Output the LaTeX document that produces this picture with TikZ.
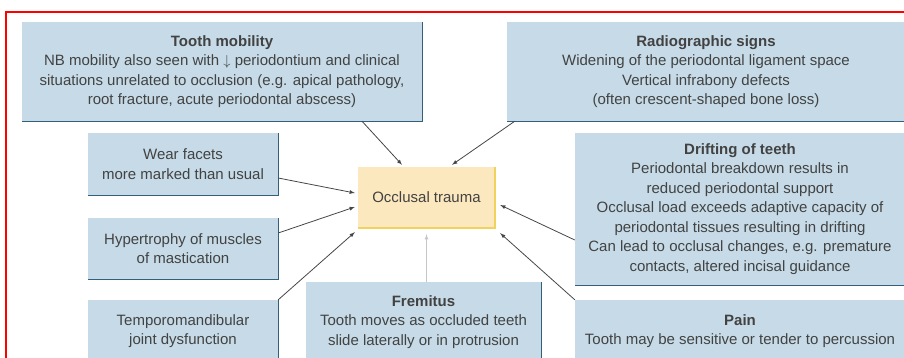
\documentclass[tikz,border=0pt]{standalone}
\usepackage{amsmath}
\usepackage{fontspec}
\setmainfont{Liberation Sans}
\usepackage{tikz}
\tikzset{>=latex}
\definecolor{signblue}{RGB}{198,219,231}
\definecolor{signedge}{RGB}{50,96,124}
\definecolor{traumafill}{RGB}{252,232,190}
\definecolor{traumaedge}{RGB}{240,210,92}
\definecolor{signtext}{RGB}{66,66,66}
\definecolor{linkgrey}{RGB}{70,70,70}
\tikzset{
	sign/.style={fill=signblue, inner sep=0pt, align=center, text=signtext,
		font=\fontsize{15}{19.5}\selectfont},
	trauma/.style={fill=traumafill, inner sep=0pt, align=center, text=signtext,
		font=\fontsize{15}{19.5}\selectfont, minimum width=137pt, minimum height=61pt},
	link/.style={->, draw=linkgrey, line width=0.8pt}
}

\begin{document}
\begin{tikzpicture}[x=1pt, y=-1pt]
	\useasboundingbox (0,0) rectangle (904,358);
	\clip (0,0) rectangle (904,358);
	\draw[red, line width=1.5pt] (6,12) rectangle (912,380);

	% signs of occlusal trauma
	\node (mob) at (222,71.5) [sign, minimum width=400pt, minimum height=99pt]
		{\textbf{Tooth mobility}\\NB mobility also seen with $\downarrow$ periodontium and clinical\\situations unrelated to occlusion (e.g. apical pathology,\\root fracture, acute periodontal abscess)};
	\node (radio) at (706,71.5) [sign, minimum width=398pt, minimum height=99pt]
		{\textbf{Radiographic signs}\\Widening of the periodontal ligament space\\Vertical infrabony defects\\(often crescent-shaped bone loss)};
	\node (wear) at (183,164) [sign, minimum width=190pt, minimum height=62pt]
		{Wear facets\\more marked than usual};
	\node (hyper) at (183,248.5) [sign, minimum width=190pt, minimum height=61pt]
		{Hypertrophy of muscles\\of mastication};
	\node (tmj) at (183,331) [sign, minimum width=190pt, minimum height=62pt]
		{Temporomandibular\\joint dysfunction};
	\node (frem) at (423.5,322) [sign, minimum width=235pt, minimum height=80pt]
		{\textbf{Fremitus}\\Tooth moves as occluded teeth\\slide laterally or in protrusion};
	\node (drift) at (740,209) [sign, minimum width=330pt, minimum height=152pt]
		{\textbf{Drifting of teeth}\\Periodontal breakdown results in\\reduced periodontal support\\Occlusal load exceeds adaptive capacity of\\periodontal tissues resulting in drifting\\Can lead to occlusal changes, e.g. premature\\contacts, altered incisal guidance};
	\node (pain) at (740,331) [sign, minimum width=330pt, minimum height=62pt]
		{\textbf{Pain}\\Tooth may be sensitive or tender to percussion};
	\node (occ) at (426.5,197.5) [trauma] {Occlusal trauma};

	% shaded right and bottom edges
	\foreach \n in {mob,radio,wear,hyper,tmj,frem,drift,pain}
		\draw[signedge, line width=1.3pt] (\n.north east) -- (\n.south east) -- (\n.south west);
	\draw[traumaedge, line width=1.5pt] (occ.north east) -- (occ.south east) -- (occ.south west);

	% links
	\draw[link] ([xshift=140pt]mob.south) -- ([xshift=-24.5pt,yshift=2pt]occ.north);
	\draw[link] ([xshift=8pt]radio.south west) -- ([xshift=25.5pt,yshift=2pt]occ.north);
	\draw[link] ([yshift=-14pt]wear.east) -- ([xshift=-3pt,yshift=4.5pt]occ.west);
	\draw[link] ([yshift=15.5pt]hyper.east) -- ([xshift=-3pt,yshift=-9.5pt]occ.west);
	\draw[link] (tmj.north east) -- ([xshift=-3pt,yshift=-4pt]occ.south west);
	\draw[link, draw=gray!45] (frem.north -| occ.south) -- ([yshift=-6pt]occ.south);
	\draw[link] ([yshift=-31pt]drift.west) -- ([xshift=5pt,yshift=-7.5pt]occ.east);
	\draw[link] (pain.north west) -- ([xshift=5pt,yshift=-5pt]occ.south east);
\end{tikzpicture}
\end{document}
